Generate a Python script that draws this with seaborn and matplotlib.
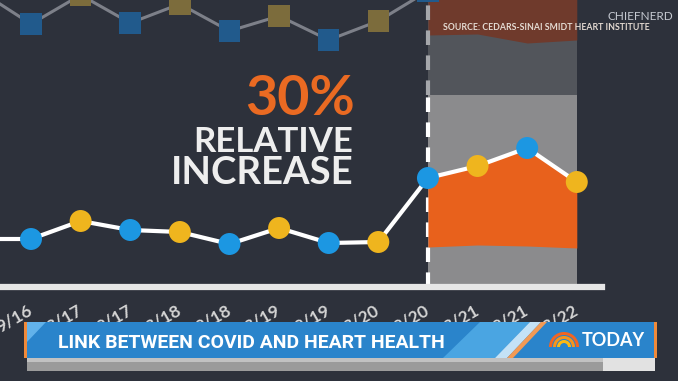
import numpy as np
import pandas as pd
import matplotlib.pyplot as plt
import seaborn as sns
from matplotlib.patches import Polygon, Rectangle, Wedge

# six-monthly periods (first one sits just off the left edge)
periods = ['3/16', '9/16', '3/17', '9/17', '3/18', '9/18', '3/19',
           '9/19', '3/20', '9/20', '3/21', '9/21', '3/22']
rate = [4.8, 4.8, 6.6, 5.7, 5.5, 4.3, 5.9, 4.4, 4.5, 10.9, 12.1, 13.9, 10.5]
# lower edge of the orange "increase" band, from 9/20 onward
band_low = [4.0, 4.2, 4.1, 3.9]
# faded previous chart peeking in at the top of the frame
prev_rate = [29.5, 26.3, 29.2, 26.4, 28.3, 25.6, 27.1, 24.7, 26.6, 29.6]
prev_band_low = [25.2, 25.3, 24.4, 24.7]
panel_top = 19.2
covid_start = '9/20'

BG = '#2d313b'
BLUE = '#1c97e2'
YELLOW = '#efb51e'
ORANGE = '#e8611c'

df = pd.DataFrame({'period': periods, 'rate': rate})
df['pos'] = np.arange(len(df))
df['month'] = df['period'].str.split('/').str[0]
c0 = periods.index(covid_start)
post = df.iloc[c0:]

prev = df.iloc[:len(prev_rate)].copy()
prev['rate'] = prev_rate

sns.set_style('dark')
plt.rcParams['font.family'] = ['Lato', 'DejaVu Sans']

fig = plt.figure(figsize=(6.78, 3.81), dpi=100, facecolor=BG)
ax = fig.add_axes([0, 0, 1, 1])
ax.set_facecolor(BG)

# shaded post-covid panel
ax.fill_between([c0, len(df) - 1], 0, panel_top, color='#8b8b8d', lw=0, zorder=1)
ax.fill_between([c0, len(df) - 1], panel_top, 40, color='#52555b', lw=0, zorder=1)
ax.fill_between(post['pos'], prev_band_low, 40, color='#6f3a2c', lw=0, zorder=1.5)

# ghost of the previous chart
sns.lineplot(data=prev, x='pos', y='rate', color='#7d8089', lw=2.2, ax=ax, zorder=2)
sns.scatterplot(data=prev, x='pos', y='rate', hue='month', marker='s', s=240,
                palette={'9': '#215a8c', '3': '#7c6c3c'}, edgecolor='none',
                legend=False, ax=ax, zorder=2.5)

# covid divider
ax.vlines(c0, 0, panel_top, colors='white', linestyles=(0, (3.5, 2.5)), lw=3, zorder=2)
ax.vlines(c0, panel_top, 40, colors='#a5a7ab', linestyles=(0, (3.5, 2.5)), lw=3, zorder=2)

ax.fill_between(post['pos'], band_low, post['rate'], color=ORANGE, lw=0, zorder=3)

sns.lineplot(data=df, x='pos', y='rate', color='white', lw=3, ax=ax, zorder=5)
sns.scatterplot(data=df, x='pos', y='rate', hue='month', s=250,
                palette={'9': BLUE, '3': YELLOW}, edgecolor='none',
                legend=False, ax=ax, zorder=6)

ax.set_xticks(df['pos'], periods)
ax.set_yticks([])
ax.set_xlim(0.375, 14.04)
ax.set_ylim(-9.4, 28.7)
for side in ['left', 'right', 'top']:
    ax.spines[side].set_visible(False)
ax.spines['bottom'].set_position(('data', 0))
ax.spines['bottom'].set_bounds(0, 12.5)
ax.spines['bottom'].set_color('#e6e6e6')
ax.spines['bottom'].set_linewidth(4.5)
ax.tick_params(axis='x', length=13, width=3.5, color='#e6e6e6', pad=3,
               labelsize=12.5, labelcolor='#d4d4d4', direction='out')
for lab in ax.get_xticklabels():
    lab.set_rotation(30)
    lab.set_ha('right')
    lab.set_va('center')
    lab.set_rotation_mode('anchor')
    lab.set_fontweight('bold')
ax.set_xlabel('')
ax.set_ylabel('')
ax.grid(False)

W, H = 678, 381
fig.text(355 / W, 1 - 115 / H, '30%', ha='right', va='baseline',
         color='#ea6a22', fontsize=40, fontweight='bold')
fig.text(353 / W, 1 - 152 / H, 'RELATIVE', ha='right', va='baseline',
         color='#eeeeee', fontsize=25, fontweight='bold')
fig.text(353 / W, 1 - 184 / H, 'INCREASE', ha='right', va='baseline',
         color='#eeeeee', fontsize=27.5, fontweight='bold')
fig.text(443 / W, 1 - 27 / H, 'SOURCE: CEDARS-SINAI SMIDT HEART INSTITUTE',
         ha='left', va='center', color='#e4dad2', fontsize=6.3, fontweight='bold')
fig.text(673 / W, 1 - 17 / H, 'CHIEFNERD', ha='right', va='center',
         color='#c6cad2', fontsize=8.5)

# lower-third banner
ov = fig.add_axes([0, 0, 1, 1])
ov.set_zorder(3)
ov.patch.set_alpha(0)
ov.set_xlim(0, W)
ov.set_ylim(H, 0)
ov.axis('off')
ov.add_patch(Rectangle((27, 322), 628, 36, color='#2a84cb', lw=0))
ov.add_patch(Rectangle((24, 322), 3, 36, color='#f08a3a', lw=0))
ov.add_patch(Rectangle((654, 322), 3, 36, color='#f08a3a', lw=0))
ov.add_patch(Polygon([(27, 322), (46, 322), (27, 342)], color='#62b2ea', lw=0))
ov.add_patch(Polygon([(443, 358), (480, 322), (530, 322), (495, 358)], color='#4aa5e2', lw=0))
ov.add_patch(Polygon([(495, 358), (530, 322), (541, 322), (507, 358)], color='#c4e2f6', lw=0))
ov.add_patch(Polygon([(507, 358), (541, 322), (547, 322), (513, 358)], color='#f29a55', lw=0))
ov.add_patch(Rectangle((27, 358), 576, 13, color='#9b9b9b', lw=0))
ov.add_patch(Rectangle((27, 358), 576, 4, color='#c2c2c2', lw=0))
ov.add_patch(Rectangle((603, 358), 52, 13, color='#e2e2e2', lw=0))
headline = ov.text(58, 348, 'LINK BETWEEN COVID AND HEART HEALTH', ha='left',
                   va='baseline', color='white', fontsize=17, fontweight='bold',
                   fontstretch='condensed', family=['Roboto', 'DejaVu Sans'])
for r, c in [(15, '#f26522'), (11, '#f7941d'), (7, '#fdb913')]:
    ov.add_patch(Wedge((564, 347), r, 180, 360, width=3, color=c, lw=0))
ov.text(582, 346, 'TODAY', ha='left', va='baseline', color='white',
        fontsize=13, fontweight='bold')

# shrink the headline to the banner's text width if no condensed face exists
fig.canvas.draw()
w = headline.get_window_extent().width
if w > 386:
    headline.set_fontsize(17 * 386 / w)

fig.savefig('out.png', dpi=100, facecolor=BG)
